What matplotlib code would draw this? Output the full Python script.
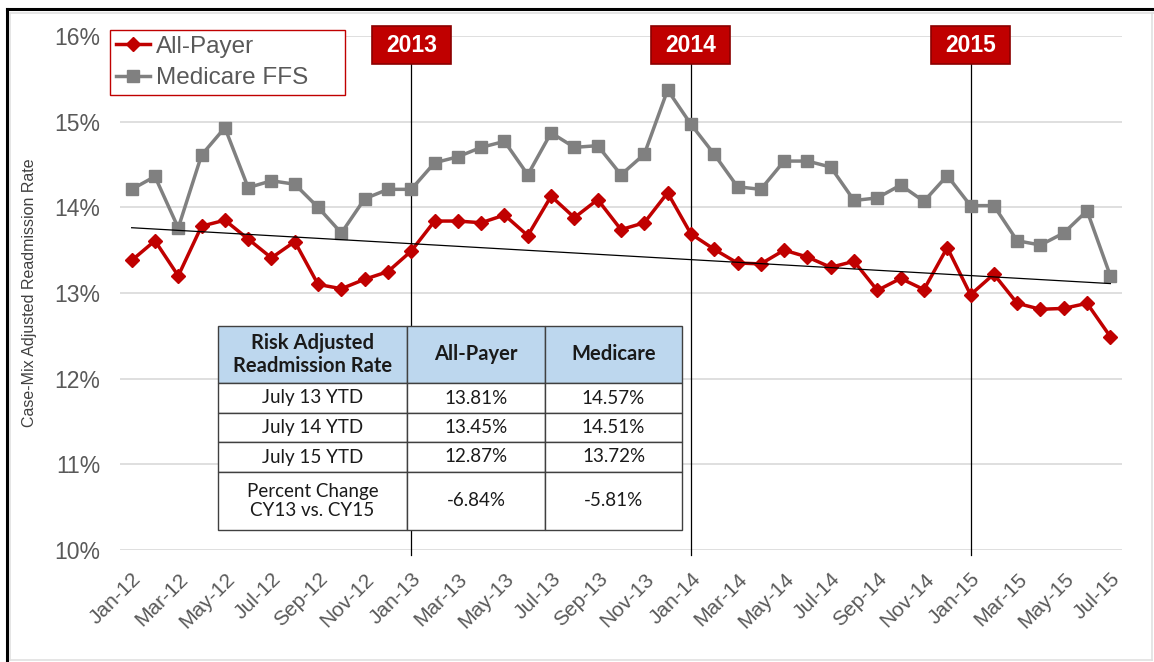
import matplotlib
matplotlib.use("Agg")
import matplotlib.pyplot as plt
import numpy as np
from matplotlib.lines import Line2D
from matplotlib.patches import Rectangle
from matplotlib.transforms import blended_transform_factory

months = ["Jan-12","Feb-12","Mar-12","Apr-12","May-12","Jun-12","Jul-12","Aug-12","Sep-12","Oct-12","Nov-12","Dec-12",
          "Jan-13","Feb-13","Mar-13","Apr-13","May-13","Jun-13","Jul-13","Aug-13","Sep-13","Oct-13","Nov-13","Dec-13",
          "Jan-14","Feb-14","Mar-14","Apr-14","May-14","Jun-14","Jul-14","Aug-14","Sep-14","Oct-14","Nov-14","Dec-14",
          "Jan-15","Feb-15","Mar-15","Apr-15","May-15","Jun-15","Jul-15"]

all_payer = [13.38, 13.61, 13.20, 13.78, 13.85, 13.63, 13.41, 13.60, 13.10, 13.05, 13.16, 13.25,
             13.49, 13.84, 13.84, 13.82, 13.91, 13.67, 14.13, 13.88, 14.09, 13.74, 13.82, 14.17,
             13.69, 13.51, 13.35, 13.34, 13.50, 13.42, 13.30, 13.37, 13.03, 13.17, 13.04, 13.53,
             12.98, 13.22, 12.88, 12.81, 12.82, 12.88, 12.49]

medicare = [14.21, 14.36, 13.76, 14.61, 14.93, 14.23, 14.31, 14.27, 14.00, 13.70, 14.10, 14.21,
            14.21, 14.52, 14.59, 14.70, 14.77, 14.38, 14.87, 14.70, 14.72, 14.38, 14.62, 15.37,
            14.97, 14.62, 14.24, 14.21, 14.54, 14.54, 14.47, 14.08, 14.11, 14.26, 14.07, 14.37,
            14.02, 14.02, 13.61, 13.56, 13.70, 13.96, 13.20]

year_markers = ["Jan-13", "Jan-14", "Jan-15"]
year_labels = ["2013", "2014", "2015"]

y_ticks = [10, 11, 12, 13, 14, 15, 16]

table_header = ["Risk Adjusted\nReadmission Rate", "All-Payer", "Medicare"]
table_rows = [["July 13 YTD", "13.81%", "14.57%"],
              ["July 14 YTD", "13.45%", "14.51%"],
              ["July 15 YTD", "12.87%", "13.72%"],
              ["Percent Change\nCY13 vs. CY15", "-6.84%", "-5.81%"]]

RED = "#C00000"
GRAY = "#808080"
TXT = "#595959"
FONT = "Liberation Sans"

W, H = 1154, 662
fig = plt.figure(figsize=(W/100, H/100), dpi=100)
ax = fig.add_axes([120/W, 1-550/H, 1002/W, 514/H])

x = np.arange(len(months))
ax.plot(x, all_payer, color=RED, lw=2.5, marker="D", ms=7.5, label="All-Payer", zorder=4)
ax.plot(x, medicare, color=GRAY, lw=2.5, marker="s", ms=8, label="Medicare FFS", zorder=3)

# linear trend of all-payer
coef = np.polyfit(x, all_payer, 1)
ax.plot(x, np.polyval(coef, x), color="black", lw=0.9, zorder=5)

ax.set_xlim(-0.5, len(months) - 0.5)
ax.set_ylim(10, 16)
ax.set_yticks(y_ticks)
ax.set_yticklabels([f"{v}%" for v in y_ticks], fontsize=16.5, color=TXT, family=FONT)
ax.set_xticks(x[::2])
ax.set_xticklabels(months[::2], rotation=45, ha="right", rotation_mode="anchor",
                   fontsize=15, color=TXT, family=FONT)
ax.tick_params(axis="y", length=0, pad=14)
ax.tick_params(axis="x", length=0, pad=14)
for s in ax.spines.values():
    s.set_visible(False)
ax.grid(axis="y", color="#D9D9D9", lw=1.2)
ax.set_axisbelow(True)
ax.set_ylabel("Case-Mix Adjusted Readmission Rate", fontsize=11.5, color="#404040", family=FONT)
ax.yaxis.set_label_coords(-(120-37)/1002, 0.5)

# year markers
trans = ax.get_xaxis_transform()
bw = 79 / 1002 * (len(months))  # box width in data units
bh = 38 / 514
yc = (550 - 45) / 514
for m, lab in zip(year_markers, year_labels):
    xi = months.index(m)
    ax.plot([xi, xi], [-0.01, yc - bh / 2], transform=trans, color="black", lw=0.9, clip_on=False, zorder=2)
    ax.add_patch(Rectangle((xi - bw / 2, yc - bh / 2), bw, bh, transform=trans, facecolor=RED,
                           edgecolor="#8B0000", lw=1.2, clip_on=False, zorder=6))
    ax.text(xi, yc, lab, transform=trans, ha="center", va="center", color="white",
            fontsize=16.5, fontweight="bold", family=FONT, zorder=7)

leg = ax.legend(loc="upper left", bbox_to_anchor=(-0.01, 0.879, 0.235, 0.133), mode="expand",
                borderaxespad=0, fancybox=False, edgecolor=RED, framealpha=1,
                prop={"family": FONT, "size": 17.5}, handlelength=1.4,
                handletextpad=0.25, borderpad=0.25, labelspacing=0.38)
leg.get_frame().set_linewidth(1)
for t in leg.get_texts():
    t.set_color(TXT)

tbl = ax.table(cellText=table_rows, colLabels=table_header, cellLoc="center",
               bbox=[98/1002, 20/514, 464/1002, 204/514], zorder=10)
tbl.auto_set_font_size(False)
widths = [189, 138, 137]
heights = [57, 30, 29, 30, 58]
for (r, c), cell in tbl.get_celld().items():
    cell.set_width(widths[c])
    cell.set_height(heights[r])
    cell.set_edgecolor("#404040")
    cell.set_linewidth(1)
    txt = cell.get_text()
    txt.set_family("Lato")
    txt.set_color("#1a1a1a")
    if r == 0:
        cell.set_facecolor("#BDD7EE")
        txt.set_fontweight("bold")
        txt.set_fontsize(14.5)
    else:
        cell.set_facecolor("white")
        txt.set_fontsize(13.5)
    txt.set_linespacing(1.15)

# outer frame
def fline(xs, ys, color, lw):
    fig.add_artist(Line2D([v / W for v in xs], [1 - v / H for v in ys], transform=fig.transFigure,
                          color=color, lw=lw))

fline([7, 1154], [9, 9], "black", 2.2)
fline([7, 7], [9, 662], "black", 2.2)
fline([10, 1154], [13, 13], "#E0E0E0", 1.2)
fline([10, 10], [13, 660], "#E0E0E0", 1.2)
fline([1152, 1152], [13, 660], "#E0E0E0", 1.2)
fline([10, 1152], [660, 660], "#E0E0E0", 1.2)

fig.savefig("out.png", dpi=100)
